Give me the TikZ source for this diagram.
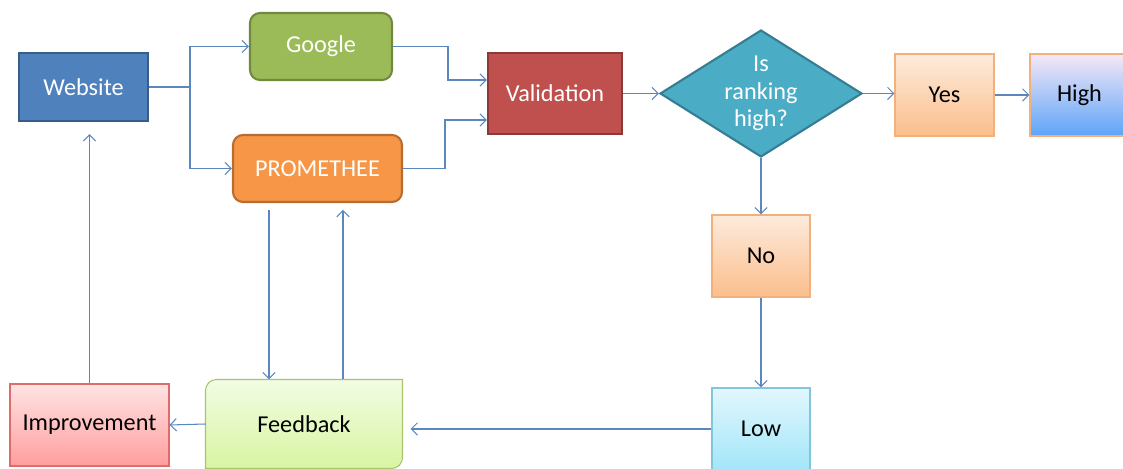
\documentclass[tikz,border=0pt]{standalone}
\usepackage{fontspec}
\setmainfont{Carlito}
\usetikzlibrary{calc}
\usetikzlibrary{shapes.geometric}
\usetikzlibrary{arrows.meta}
\usetikzlibrary{backgrounds}

\definecolor{lineblue}{HTML}{5B87BF}
\definecolor{webfill}{HTML}{4F81BD}
\definecolor{webdraw}{HTML}{385D8A}
\definecolor{gfill}{HTML}{9BBB59}
\definecolor{gdraw}{HTML}{71893F}
\definecolor{pfill}{HTML}{F79646}
\definecolor{pdraw}{HTML}{B66D31}
\definecolor{vfill}{HTML}{C0504D}
\definecolor{vdraw}{HTML}{8C3836}
\definecolor{rfill}{HTML}{4BACC6}
\definecolor{rdraw}{HTML}{357D91}
\definecolor{peachtop}{HTML}{FDEBDC}
\definecolor{peachbot}{HTML}{FBBE8C}
\definecolor{peachdraw}{HTML}{F2B07C}
\definecolor{hightop}{HTML}{F6E8F6}
\definecolor{highbot}{HTML}{5DA4F8}
\definecolor{lowtop}{HTML}{E2F7FD}
\definecolor{lowbot}{HTML}{A2E6F9}
\definecolor{lowdraw}{HTML}{83C6DC}
\definecolor{fbtop}{HTML}{F2FCE4}
\definecolor{fbbot}{HTML}{D8F5A2}
\definecolor{fbdraw}{HTML}{A9C46A}
\definecolor{imtop}{HTML}{FFE3E3}
\definecolor{imbot}{HTML}{FF9E9E}
\definecolor{imdraw}{HTML}{E06B6B}

\begin{document}
\begin{tikzpicture}[x=0.02cm, y=-0.02cm, font=\fontsize{13.8}{15.5}\selectfont]
    \tikzstyle{arr}=[draw=lineblue, line width=0.6pt, -{Straight Barb[length=3.5pt, width=7pt]}]
    \tikzstyle{solid box}=[rectangle, text=white, line width=1.2pt, inner sep=0pt]
    \tikzstyle{soft box}=[rectangle, text=black, line width=0.6pt, inner sep=0pt]

    \useasboundingbox (0,0) rectangle (1123,469);

    % top row
    \node[solid box, fill=webfill, draw=webdraw, minimum width=2.58cm, minimum height=1.36cm] (web) at (83.5,87) {Website};
    \node[solid box, rounded corners=0.2cm, fill=gfill, draw=gdraw, minimum width=2.84cm, minimum height=1.34cm] (google) at (321,46.5) {Google};
    \node[solid box, rounded corners=0.2cm, fill=pfill, draw=pdraw, minimum width=3.38cm, minimum height=1.34cm] (prom) at (317.5,168.5) {PROMETHEE};
    \node[solid box, fill=vfill, draw=vdraw, minimum width=2.68cm, minimum height=1.62cm] (valid) at (555,93.5) {Validation};
    \node[diamond, aspect=1.6, text=white, fill=rfill, draw=rdraw, line width=1.2pt, inner sep=0pt, align=center,
          minimum width=4.04cm, minimum height=2.54cm] (rank) at (761,93.5) {Is\\ranking\\high?};
    \node[soft box, top color=peachtop, bottom color=peachbot, draw=peachdraw, minimum width=1.98cm, minimum height=1.64cm] (yes) at (944.5,95) {Yes};
    \node[soft box, top color=hightop, bottom color=highbot, draw=peachdraw, minimum width=1.98cm, minimum height=1.64cm] (high) at (1079.5,95) {High};

    % right column and bottom row
    \node[soft box, top color=peachtop, bottom color=peachbot, draw=peachdraw, minimum width=1.96cm, minimum height=1.64cm] (no) at (761,256) {No};
    \node[soft box, top color=lowtop, bottom color=lowbot, draw=lowdraw, minimum width=1.96cm, minimum height=1.64cm] (low) at (761,429) {Low};
    \node[soft box, minimum width=3.92cm, minimum height=1.76cm] (feed) at (304,424) {Feedback};
    \node[soft box, top color=imtop, bottom color=imbot, draw=imdraw, minimum width=3.18cm, minimum height=1.64cm] (impr) at (89.5,425) {Improvement};

    \begin{scope}[on background layer]
        \draw[top color=fbtop, bottom color=fbbot, draw=fbdraw, line width=0.6pt]
            (feed.south west) -- ([yshift=-0.22cm]feed.north west)
            arc[start angle=180, end angle=90, radius=0.22cm]
            -- (feed.north east) -- ([yshift=0.22cm]feed.south east)
            arc[start angle=0, end angle=-90, radius=0.22cm] -- cycle;
    \end{scope}

    % connectors
    \coordinate (split) at (190,87);
    \coordinate (gv) at (448,80);
    \coordinate (pv) at (445,120);
    \draw[arr] (web.east) -- (split) |- (google.west);
    \draw[arr] (split) |- (prom.west);
    \draw[arr] (google.east) -| (gv) -- (gv -| valid.west);
    \draw[arr] (prom.east) -| (pv) -- (pv -| valid.west);
    \draw[arr] (valid.east) -- (rank.west);
    \draw[arr] (rank.east) -- (rank.east -| yes.west);
    \draw[arr] (yes.east) -- (high.west);
    \draw[arr] (rank.south) -- (no.north);
    \draw[arr] (no.south) -- (low.north);
    \draw[arr, shorten >=0.16cm] (low.west) -- (low.west -| feed.east);
    \draw[arr] (feed.west) -- (impr.east);
    \draw[arr, shorten >=0.24cm] (impr.north) -- (impr.north |- web.south);

    \coordinate (pf) at (269,210);
    \coordinate (fp) at (343,210);
    \draw[arr] (pf) -- (pf |- feed.north);
    \draw[arr] (fp |- feed.north) -- (fp);
\end{tikzpicture}
\end{document}
